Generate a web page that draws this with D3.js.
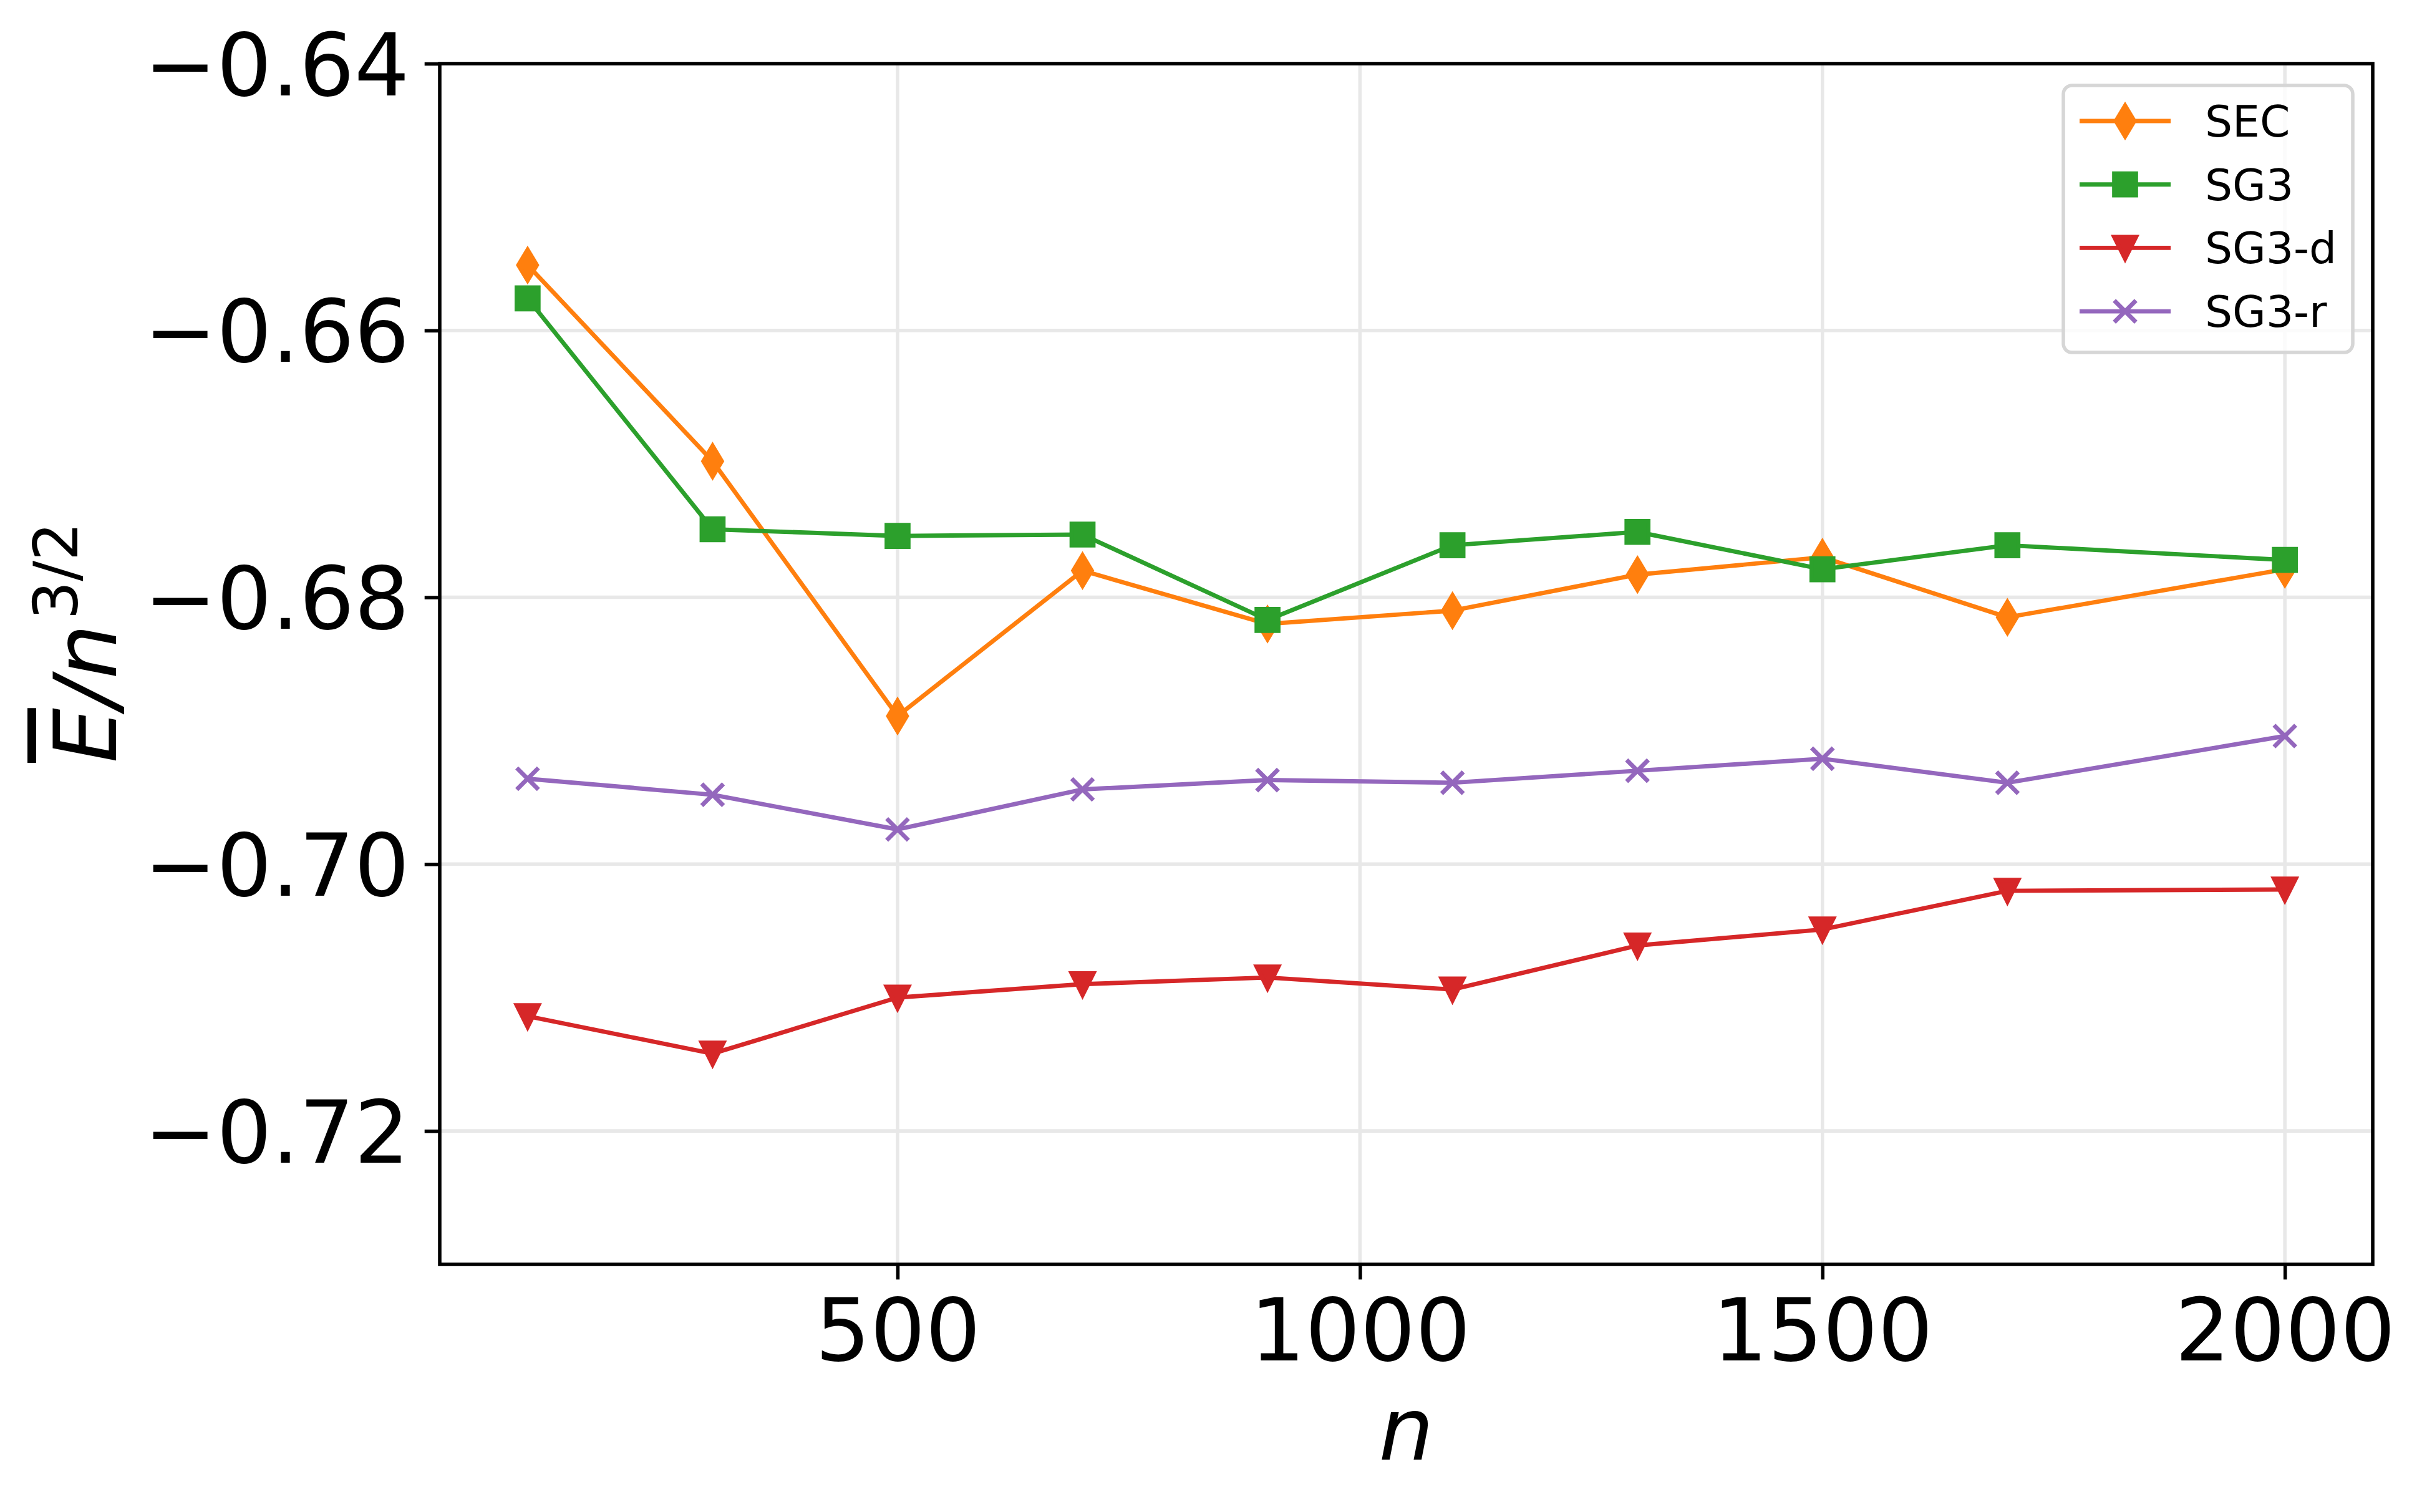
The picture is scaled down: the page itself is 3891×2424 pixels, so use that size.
<!DOCTYPE html>
<html>
<head>
<meta charset="utf-8">
<script src="https://cdn.jsdelivr.net/npm/d3@7"></script>
<style>
  html, body { margin: 0; padding: 0; background: #fff; }
  svg { display: block; font-family: "DejaVu Sans", sans-serif; }
</style>
</head>
<body>
<div id="chart"></div>
<script>
// ── Data ───────────────────────────────────────────────────────────────────
const nValues = [100, 300, 500, 700, 900, 1100, 1300, 1500, 1700, 2000];
const secValues = [-0.6551, -0.6698, -0.6889, -0.6780, -0.6820, -0.6810, -0.6783, -0.6770, -0.6815, -0.6779];
const sg3Values = [-0.6576, -0.6749, -0.6754, -0.6753, -0.6817, -0.6761, -0.6751, -0.6779, -0.6761, -0.6772];
const sg3dValues = [-0.7114, -0.7142, -0.7100, -0.7090, -0.7085, -0.7094, -0.7061, -0.7049, -0.7020, -0.7019];
const sg3rValues = [-0.6936, -0.6948, -0.6974, -0.6944, -0.6937, -0.6939, -0.6930, -0.6921, -0.6939, -0.6904];

const seriesNames = ['SEC', 'SG3', 'SG3-d', 'SG3-r'];
const xTicks = [500, 1000, 1500, 2000];
const yTicks = [-0.72, -0.70, -0.68, -0.66, -0.64];

// ── Layout (matplotlib-ish at 500 dpi) ─────────────────────────────────────
const W = 3891, H = 2424;
const margin = { left: 705, right: 87, top: 102, bottom: 397 };
const PT = 500 / 72;
const tickFont = 20 * PT;
const legendFont = 10 * PT;
const lw = 1 * PT;
const ms = 5 * PT;

const series = [
  { name: seriesNames[0], values: secValues, color: '#ff7f0e', marker: 'thin_diamond' },
  { name: seriesNames[1], values: sg3Values, color: '#2ca02c', marker: 'square' },
  { name: seriesNames[2], values: sg3dValues, color: '#d62728', marker: 'triangle_down' },
  { name: seriesNames[3], values: sg3rValues, color: '#9467bd', marker: 'x' },
];

const x = d3.scaleLinear().domain([5, 2095]).range([margin.left, W - margin.right]);
const y = d3.scaleLinear().domain([-0.73, -0.64]).range([H - margin.bottom, margin.top]);

const svg = d3.select('#chart').append('svg')
  .attr('width', W).attr('height', H)
  .attr('viewBox', `0 0 ${W} ${H}`);

// ── Grid ───────────────────────────────────────────────────────────────────
const grid = svg.append('g').attr('class', 'grid');
grid.selectAll('line.gx').data(xTicks).enter().append('line')
  .attr('x1', d => x(d)).attr('x2', d => x(d))
  .attr('y1', y.range()[0]).attr('y2', y.range()[1])
  .attr('stroke', '#e8e8e8').attr('stroke-width', 0.8 * PT);
grid.selectAll('line.gy').data(yTicks).enter().append('line')
  .attr('y1', d => y(d)).attr('y2', d => y(d))
  .attr('x1', x.range()[0]).attr('x2', x.range()[1])
  .attr('stroke', '#e8e8e8').attr('stroke-width', 0.8 * PT);

// ── Markers ────────────────────────────────────────────────────────────────
function markerPath(type) {
  const s = ms / 2;
  if (type === 'thin_diamond') {
    const h = ms * Math.SQRT2 / 2, w = 0.6 * h;
    return `M0,${-h}L${w},0L0,${h}L${-w},0Z`;
  }
  if (type === 'square') return `M${-s},${-s}H${s}V${s}H${-s}Z`;
  if (type === 'triangle_down') return `M0,${s}L${-s},${-s}L${s},${-s}Z`;
  return `M${-s},${-s}L${s},${s}M${-s},${s}L${s},${-s}`;
}

function drawMarker(g, type, color) {
  g.append('path')
    .attr('d', markerPath(type))
    .attr('fill', type === 'x' ? 'none' : color)
    .attr('stroke', color)
    .attr('stroke-width', lw)
    .attr('stroke-linejoin', 'miter')
    .attr('stroke-miterlimit', 10);
}

// ── Lines + markers ────────────────────────────────────────────────────────
const line = d3.line().x(d => x(d[0])).y(d => y(d[1]));
const plot = svg.append('g').attr('class', 'plot');

series.forEach(s => {
  const pts = nValues.map((n, i) => [n, s.values[i]]);
  const g = plot.append('g');
  g.append('path')
    .attr('d', line(pts))
    .attr('fill', 'none')
    .attr('stroke', s.color)
    .attr('stroke-width', lw)
    .attr('stroke-linejoin', 'round');
  pts.forEach(p => {
    const mg = g.append('g').attr('transform', `translate(${x(p[0])},${y(p[1])})`);
    drawMarker(mg, s.marker, s.color);
  });
});

// ── Axes ───────────────────────────────────────────────────────────────────
const fmtY = d => d3.format('.2f')(d).replace('-', '\u2212');
const fmtX = d => String(d);

const xAxis = svg.append('g')
  .attr('transform', `translate(0,${H - margin.bottom})`)
  .call(d3.axisBottom(x).tickValues(xTicks).tickFormat(fmtX).tickSize(3.5 * PT).tickPadding(3.5 * PT).tickSizeOuter(0));
const yAxis = svg.append('g')
  .attr('transform', `translate(${margin.left},0)`)
  .call(d3.axisLeft(y).tickValues(yTicks).tickFormat(fmtY).tickSize(3.5 * PT).tickPadding(3.5 * PT).tickSizeOuter(0));

[xAxis, yAxis].forEach(a => {
  a.select('.domain').remove();
  a.selectAll('.tick line').attr('stroke', '#000').attr('stroke-width', 0.8 * PT);
  a.selectAll('.tick text')
    .attr('font-family', '"DejaVu Sans", sans-serif')
    .attr('font-size', tickFont)
    .attr('fill', '#000');
});
xAxis.selectAll('.tick text').attr('dy', null).attr('y', 7 * PT + 0.76 * tickFont);
yAxis.selectAll('.tick text').attr('dy', '0.36em');

// spines
svg.append('rect')
  .attr('x', margin.left).attr('y', margin.top)
  .attr('width', W - margin.left - margin.right)
  .attr('height', H - margin.top - margin.bottom)
  .attr('fill', 'none').attr('stroke', '#000').attr('stroke-width', 0.8 * PT);

// ── Axis labels ────────────────────────────────────────────────────────────
svg.append('text')
  .attr('x', (x.range()[0] + x.range()[1]) / 2)
  .attr('y', 2340)
  .attr('text-anchor', 'middle')
  .attr('font-size', tickFont)
  .attr('font-style', 'italic')
  .text('n');

const yl = svg.append('text')
  .attr('transform', 'translate(186,1030) rotate(-90)')
  .attr('text-anchor', 'middle')
  .attr('font-size', tickFont)
  .attr('font-style', 'italic');
yl.append('tspan').attr('text-decoration', 'overline').text('E');
yl.append('tspan').text('/n');
yl.append('tspan')
  .attr('font-size', tickFont * 0.7)
  .attr('dy', -0.45 * tickFont)
  .attr('font-style', 'normal')
  .attr('dx', 0.05 * tickFont)
  .text('3/2');

// ── Legend ─────────────────────────────────────────────────────────────────
const legend = svg.append('g').attr('class', 'legend');
legend.append('rect')
  .attr('x', 3308).attr('y', 137)
  .attr('width', 464).attr('height', 428)
  .attr('rx', 0.2 * legendFont).attr('ry', 0.2 * legendFont)
  .attr('fill', '#fff').attr('fill-opacity', 0.8)
  .attr('stroke', '#d6d6d6').attr('stroke-width', 0.8 * PT);

series.forEach((s, i) => {
  const ry = 194 + i * 101.7;
  const row = legend.append('g').attr('transform', `translate(0,${ry})`);
  row.append('line')
    .attr('x1', 3334).attr('x2', 3480)
    .attr('stroke', s.color).attr('stroke-width', lw);
  drawMarker(row.append('g').attr('transform', 'translate(3407,0)'), s.marker, s.color);
  row.append('text')
    .attr('x', 3535).attr('y', 0.36 * legendFont)
    .attr('font-size', legendFont)
    .attr('fill', '#000')
    .text(s.name);
});
</script>
</body>
</html>
